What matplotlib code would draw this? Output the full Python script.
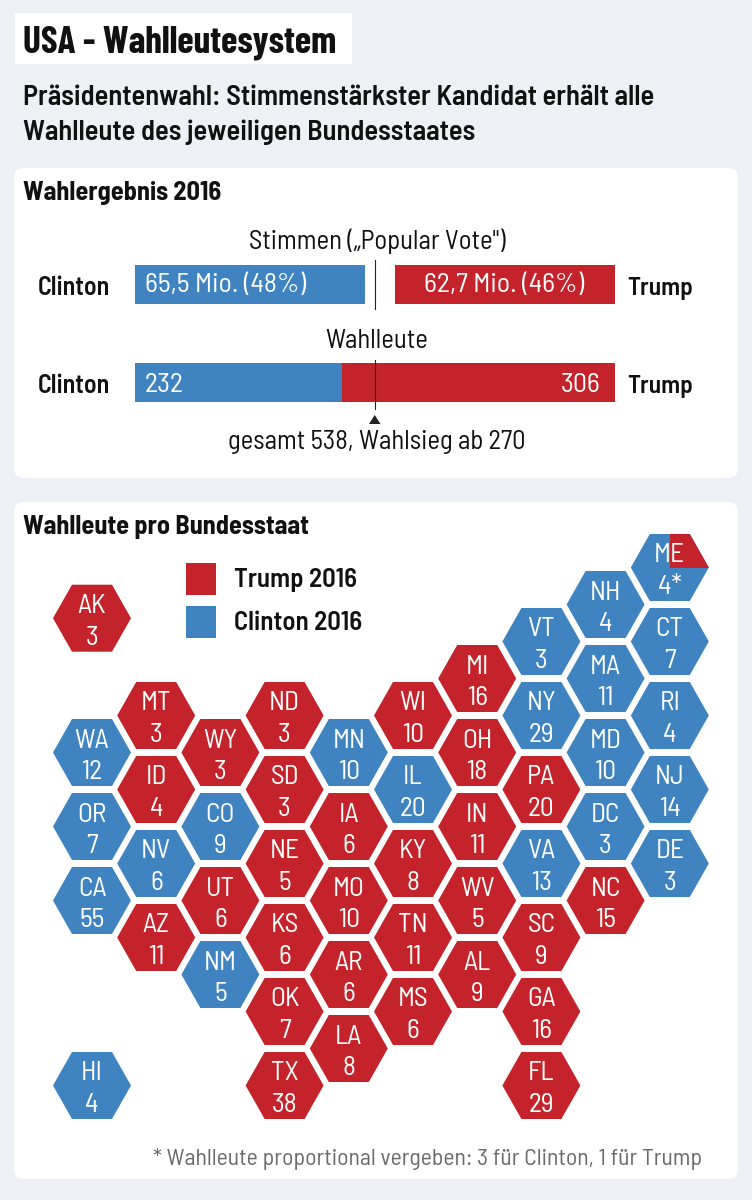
import matplotlib
matplotlib.use("Agg")
import matplotlib.pyplot as plt
from matplotlib.patches import FancyBboxPatch, Polygon, Rectangle

plt.rcParams['font.family'] = ['Barlow Semi Condensed', 'Liberation Sans', 'DejaVu Sans']

BLUE = '#3F83C1'
RED = '#C4232B'
BG = '#EFF0F5'
INK = '#111111'

# results
popular_clinton = 65.5
popular_trump = 62.7
electors_clinton = 232
electors_trump = 306
electors_total = 538

# one entry per state: name, electors, winner
states = ['ME', 'NH', 'AK', 'VT', 'CT', 'MI', 'MA', 'MT', 'ND', 'WI', 'NY', 'RI',
          'WA', 'WY', 'MN', 'OH', 'MD', 'ID', 'SD', 'IL', 'PA', 'NJ',
          'OR', 'CO', 'IA', 'IN', 'DC', 'NV', 'NE', 'KY', 'VA', 'DE',
          'CA', 'UT', 'MO', 'WV', 'NC', 'AZ', 'KS', 'TN', 'SC',
          'NM', 'AR', 'AL', 'OK', 'MS', 'GA', 'LA', 'TX', 'FL', 'HI']
votes = ['4*', 4, 3, 3, 7, 16, 11, 3, 3, 10, 29, 4,
         12, 3, 10, 18, 10, 4, 3, 20, 20, 14,
         7, 9, 6, 11, 3, 6, 5, 8, 13, 3,
         55, 6, 10, 5, 15, 11, 6, 11, 9,
         5, 6, 9, 7, 6, 16, 8, 38, 29, 4]
winners = 'CCTCCTCTTTCC' 'CTCTCTTCTC' 'CCTTCCTTCC' 'CTTTT' 'TTTT' 'CTTTTTTTTC'

# tile map grid
cols = [9, 8, 0, 7, 9, 6, 8, 1, 3, 5, 7, 9,
        0, 2, 4, 6, 8, 1, 3, 5, 7, 9,
        0, 2, 4, 6, 8, 1, 3, 5, 7, 9,
        0, 2, 4, 6, 8, 1, 3, 5, 7,
        2, 4, 6, 3, 5, 7, 4, 3, 7, 0]
rows = [0, 1, 1.37, 2, 2, 3, 3, 4, 4, 4, 4, 4,
        5, 5, 5, 5, 5, 6, 6, 6, 6, 6,
        7, 7, 7, 7, 7, 8, 8, 8, 8, 8,
        9, 9, 9, 9, 9, 10, 10, 10, 10,
        11, 11, 11, 12, 12, 12, 13, 14, 14, 14]

fig = plt.figure(figsize=(7.52, 12), dpi=100, facecolor=BG)
ax = fig.add_axes([0, 0, 1, 1])
ax.set_xlim(0, 752)
ax.set_ylim(1200, 0)
ax.axis('off')


def panel(x0, y0, x1, y1):
    ax.add_patch(FancyBboxPatch((x0 + 10, y0 + 10), x1 - x0 - 20, y1 - y0 - 20,
                                boxstyle='round,pad=10,rounding_size=10', fc='white', ec='none'))


def hexagon(cx, cy, color):
    pts = [(cx - 39, cy), (cx - 20, cy - 33.5), (cx + 20, cy - 33.5),
           (cx + 39, cy), (cx + 20, cy + 33.5), (cx - 20, cy + 33.5)]
    p = Polygon(pts, closed=True, fc=color, ec='none')
    ax.add_patch(p)
    return p


# title block
ax.add_patch(Rectangle((15, 13), 337, 51, fc='white', ec='none'))
ax.text(23, 52, 'USA - Wahlleutesystem', fontsize=26.9, fontweight=700, va='baseline', color=INK,
        family=['Barlow Condensed', 'Liberation Sans', 'DejaVu Sans'])
ax.text(23, 105, 'Präsidentenwahl: Stimmenstärkster Kandidat erhält alle', fontsize=20.45, fontweight=600, va='baseline', color=INK)
ax.text(23, 140, 'Wahlleute des jeweiligen Bundesstaates', fontsize=20.45, fontweight=600, va='baseline', color=INK)

panel(14, 168, 738, 478)
panel(14, 502, 738, 1179)

ax.text(23, 200, 'Wahlergebnis 2016', fontsize=18.95, fontweight=700, va='baseline', color=INK)
ax.text(23, 534, 'Wahlleute pro Bundesstaat', fontsize=18.95, fontweight=700, va='baseline', color=INK)

# bars: same scale within each row
bar_left = 135
bar_width = 480
px_per_vote = bar_width / electors_total
px_per_mio = 230 / popular_clinton

ax.barh(284.5, popular_clinton * px_per_mio, height=39, left=bar_left, color=BLUE, align='center')
ax.barh(284.5, popular_trump * px_per_mio, height=39, left=bar_left + bar_width - popular_trump * px_per_mio,
        color=RED, align='center')
ax.barh(382.5, electors_clinton * px_per_vote, height=39, left=bar_left, color=BLUE, align='center')
ax.barh(382.5, electors_trump * px_per_vote, height=39, left=bar_left + electors_clinton * px_per_vote,
        color=RED, align='center')

ax.plot([374.5, 374.5], [260, 309], color='#222222', lw=0.8)
ax.plot([374.5, 374.5], [360, 409], color='#222222', lw=0.8)
ax.add_patch(Polygon([(369, 424), (380.5, 424), (374.7, 415)], fc='#222222', ec='none'))

ax.text(377, 249, 'Stimmen („Popular Vote")', fontsize=19.2, ha='center', va='baseline', color=INK)
ax.text(377, 348, 'Wahlleute', fontsize=19.2, ha='center', va='baseline', color=INK)
ax.text(377, 449, 'gesamt 538, Wahlsieg ab 270', fontsize=19.2, ha='center', va='baseline', color=INK)

for y in (295, 393):
    ax.text(38, y, 'Clinton', fontsize=18.7, fontweight=600, va='baseline', color=INK)
    ax.text(627, y, 'Trump', fontsize=18.3, fontweight=600, va='baseline', color=INK)

ax.text(145, 292, '65,5 Mio. (48%)', fontsize=20, color='white', va='baseline')
ax.text(584, 292, '62,7 Mio. (46%)', fontsize=20, color='white', va='baseline', ha='right')
ax.text(145, 392, str(electors_clinton), fontsize=20, color='white', va='baseline')
ax.text(600, 392, str(electors_trump), fontsize=20, color='white', va='baseline', ha='right')

# legend
ax.add_patch(Rectangle((186, 563), 30, 32, fc=RED, ec='none'))
ax.add_patch(Rectangle((186, 606), 30, 32, fc=BLUE, ec='none'))
ax.text(234, 587, 'Trump 2016', fontsize=19.3, fontweight=600, va='baseline', color=INK)
ax.text(234, 630, 'Clinton 2016', fontsize=19.3, fontweight=600, va='baseline', color=INK)

# hex tiles
for name, n, w, c, r in zip(states, votes, winners, cols, rows):
    cx = 92 + 64.2 * c
    cy = 567.5 + 37 * r
    hexagon(cx, cy, RED if w == 'T' else BLUE)
    if name == 'ME':
        # Maine splits its electors
        hexagon(cx, cy, RED).set_clip_path(Rectangle((cx, cy - 34), 40, 34, transform=ax.transData))
    ax.text(cx, cy - 5, name, fontsize=19.8, color='white', ha='center', va='baseline')
    ax.text(cx, cy + 26.5, str(n), fontsize=19.8, color='white', ha='center', va='baseline')

ax.text(702, 1165, '* Wahlleute proportional vergeben: 3 für Clinton, 1 für Trump', fontsize=17.1,
        color='#6B6B6B', ha='right', va='baseline')

fig.savefig('out.png', dpi=100, facecolor=BG)
